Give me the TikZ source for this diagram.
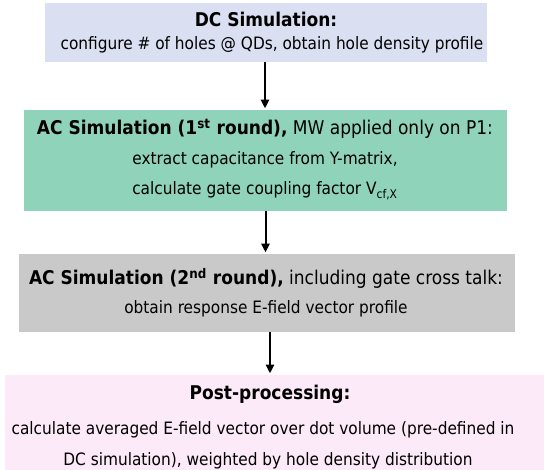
\documentclass[tikz,border=0pt]{standalone}
\usepackage{fontspec}
\setmainfont{DejaVu Sans Condensed}
\usetikzlibrary{arrows.meta}
\definecolor{dcblue}{HTML}{DAE0F2}
\definecolor{acgreen}{HTML}{8FD3BA}
\definecolor{acgray}{HTML}{C9C9C9}
\definecolor{pppink}{HTML}{FCEAF8}
\tikzset{
  stage/.style={rectangle, inner sep=0pt, draw=none},
  headline/.style={anchor=base, inner sep=0pt, font=\fontsize{14.2}{17}\selectfont},
  bodyline/.style={anchor=base, inner sep=0pt, font=\fontsize{12.8}{15}\selectfont},
  flow/.style={-{Triangle[length=6.5pt,width=6pt]}, line width=1.5pt, shorten >=1pt}
}
\begin{document}
\begin{tikzpicture}[x=0.75pt,y=-0.75pt]
\useasboundingbox (0,0) rectangle (544,470);
\fill[white] (0,0) rectangle (544,470);
% stages
\node[stage, fill=dcblue, minimum width=331.5pt, minimum height=44.25pt] (dc) at (266,32.5) {};
\node[stage, fill=acgreen, minimum width=362.25pt, minimum height=75.75pt] (acone) at (265.5,160.5) {};
\node[stage, fill=acgray, minimum width=372pt, minimum height=58.5pt] (actwo) at (267,293) {};
\node[stage, fill=pppink, minimum width=404.25pt, minimum height=71.25pt] (post) at (274.5,422.5) {};
% texts
\node[headline] (dctitle) at (266,27) {\textbf{DC Simulation:}};
\node[bodyline] (dctext) at (272,50) {configure \# of holes @ QDs, obtain hole density profile};
\node[headline] (aconetitle) at (265,135) {\textbf{AC Simulation (1\textsuperscript{st} round),} MW applied only on P1:};
\node[bodyline] (aconetexta) at (265,165) {extract capacitance from Y-matrix,};
\node[bodyline] (aconetextb) at (265,195) {calculate gate coupling factor V\textsubscript{cf,X}};
\node[headline] (actwotitle) at (266,285) {\textbf{AC Simulation (2\textsuperscript{nd} round),} including gate cross talk:};
\node[bodyline] (actwotext) at (266,314) {obtain response E-field vector profile};
\node[headline] (posttitle) at (270,400) {\textbf{Post-processing:}};
\node[bodyline] (posttexta) at (263,435) {calculate averaged E-field vector over dot volume (pre-defined in};
\node[bodyline] (posttextb) at (268,466) {DC simulation), weighted by hole density distribution};
% arrows
\draw[flow] ([xshift=-0.75pt]dc.south) -- ([xshift=-0.75pt]dc.south |- acone.north);
\draw[flow] (acone.south) -- (acone.south |- actwo.north);
\draw[flow] ([xshift=2.25pt]actwo.south) -- ([xshift=2.25pt]actwo.south |- post.north);
\end{tikzpicture}
\end{document}
